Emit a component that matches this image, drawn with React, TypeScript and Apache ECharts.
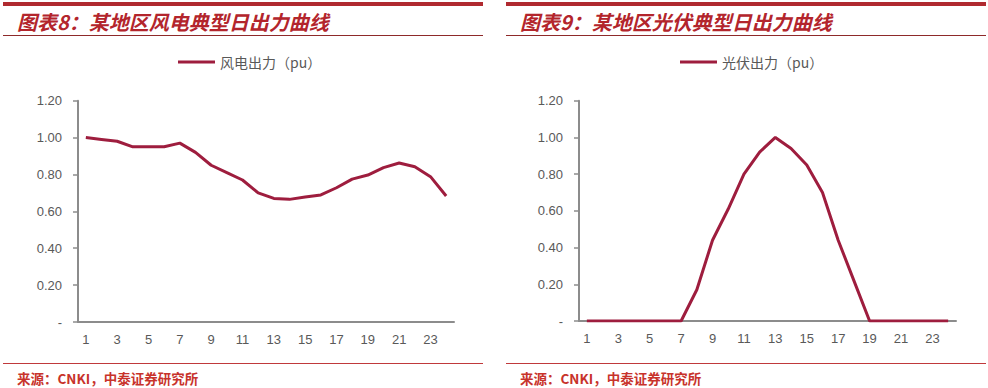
import React, { useEffect, useRef } from "react";
import * as echarts from "echarts";

const hours = Array.from({ length: 24 }, (_, i) => String(i + 1));
const windName = "风电出力（pu）";
const solarName = "光伏出力（pu）";
const windValues = [1.0, 0.99, 0.98, 0.95, 0.95, 0.95, 0.97, 0.92, 0.85, 0.81, 0.77, 0.7, 0.67, 0.665, 0.678, 0.689, 0.728, 0.775, 0.797, 0.837, 0.862, 0.842, 0.788, 0.683];
const solarValues = [0, 0, 0, 0, 0, 0, 0, 0.17, 0.44, 0.61, 0.8, 0.92, 1.0, 0.94, 0.85, 0.7, 0.44, 0.22, 0, 0, 0, 0, 0, 0];
const leftTitle = "图表8：某地区风电典型日出力曲线";
const rightTitle = "图表9：某地区光伏典型日出力曲线";
const sourceText = "来源：CNKI，中泰证券研究所";

const LINE = "#9E1D3E";
const AXIS = "#8C8C8C";
const LABEL = "#595959";
const TITLE_RED = "#B3252C";
const SRC_RED = "#C8332B";

export default function App() {
  const ref = useRef<HTMLDivElement>(null);
  useEffect(() => {
    if (!ref.current) return;
    const chart = echarts.init(ref.current, undefined, { renderer: "svg" });
    const mkX = (gi: number) => ({
      type: "category" as const,
      gridIndex: gi,
      data: hours,
      boundaryGap: true,
      axisLine: { lineStyle: { color: AXIS, width: 2 } },
      axisTick: { interval: 0, length: 4, lineStyle: { color: AXIS, width: 1.5 } },
      axisLabel: { interval: 1, color: LABEL, fontSize: 13, fontFamily: "Liberation Sans, Arial, sans-serif", margin: 11 },
    });
    const mkY = (gi: number) => ({
      type: "value" as const,
      gridIndex: gi,
      min: 0,
      max: 1.2,
      interval: 0.2,
      splitLine: { show: false },
      axisLine: { show: true, lineStyle: { color: AXIS, width: 2 } },
      axisTick: { show: true, length: 5, lineStyle: { color: AXIS, width: 1.5 } },
      axisLabel: {
        color: LABEL,
        fontSize: 13,
        fontFamily: "Liberation Sans, Arial, sans-serif",
        margin: 16,
        formatter: (v: number) => (v === 0 ? "-" : v.toFixed(2)),
      },
    });
    const legendCommon = {
      icon: "rect",
      itemWidth: 37,
      itemHeight: 3,
      itemGap: 10,
      padding: 0,
      textStyle: { color: LABEL, fontSize: 14, fontFamily: "Noto Sans CJK SC, sans-serif" },
    };
    const panel = (dx: number, title: string) => [
      { type: "rect", shape: { x: 3 + dx, y: 2, width: 480, height: 4 }, style: { fill: "#B02A30" } },
      {
        type: "text",
        x: 17 + dx,
        y: 21,
        style: {
          text: title,
          fill: TITLE_RED,
          font: "italic bold 20px 'Noto Sans CJK SC', sans-serif",
          textVerticalAlign: "middle",
        },
      },
      { type: "line", shape: { x1: 3 + dx, y1: 35.5, x2: 483 + dx, y2: 35.5 }, style: { stroke: "#8E2A2A", lineWidth: 1 } },
      { type: "line", shape: { x1: 3 + dx, y1: 363.5, x2: 483 + dx, y2: 363.5 }, style: { stroke: "#C0393B", lineWidth: 1 } },
      {
        type: "text",
        x: 17 + dx,
        y: 378,
        style: {
          text: sourceText,
          fill: SRC_RED,
          font: "bold 13.5px 'Noto Sans CJK SC', sans-serif",
          textVerticalAlign: "middle",
        },
      },
    ];
    chart.setOption({
      animation: false,
      backgroundColor: "#ffffff",
      grid: [
        { left: 78, top: 100.7, width: 376, height: 221.3 },
        { left: 579, top: 100.7, width: 377, height: 220.3 },
      ],
      legend: [
        { ...legendCommon, data: [windName], left: 178, top: 55 },
        { ...legendCommon, data: [solarName], left: 680, top: 55 },
      ],
      xAxis: [mkX(0), mkX(1)],
      yAxis: [mkY(0), mkY(1)],
      series: [
        {
          name: windName,
          type: "line",
          xAxisIndex: 0,
          yAxisIndex: 0,
          data: windValues,
          showSymbol: false,
          lineStyle: { color: LINE, width: 3 },
          itemStyle: { color: LINE },
        },
        {
          name: solarName,
          type: "line",
          xAxisIndex: 1,
          yAxisIndex: 1,
          data: solarValues,
          showSymbol: false,
          lineStyle: { color: LINE, width: 3 },
          itemStyle: { color: LINE },
        },
      ],
      graphic: [...panel(0, leftTitle), ...panel(503, rightTitle)],
    });
    return () => chart.dispose();
  }, []);
  return <div ref={ref} style={{ position: "fixed", left: 0, top: 0, width: 988, height: 388 }} />;
}
